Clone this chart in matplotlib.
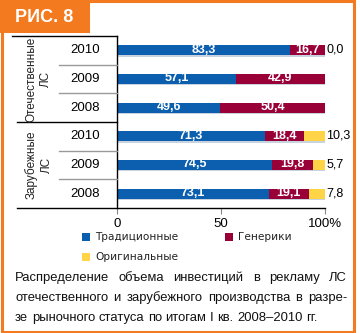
import matplotlib
matplotlib.use("Agg")
import matplotlib.pyplot as plt
from matplotlib.patches import Rectangle
from matplotlib.lines import Line2D

years = ["2010", "2009", "2008", "2010", "2009", "2008"]
groups = ["Отечественные\nЛС", "Зарубежные\nЛС"]
traditional = [83.3, 57.1, 49.6, 71.3, 74.5, 73.1]
generics = [16.7, 42.9, 50.4, 18.4, 19.8, 19.1]
original = [0.0, 0.0, 0.0, 10.3, 5.7, 7.8]
show_orig_label = [True, False, False, True, True, True]
series_names = ["Традиционные", "Генерики", "Оригинальные"]
xticks = [0, 50, 100]
xticklabels = ["0", "50", "100%"]
title = "РИС. 8"
caption_lines = ["Распределение объема инвестиций в рекламу ЛС",
                 "отечественного и зарубежного производства в разре-",
                 "зе рыночного статуса по итогам I кв. 2008–2010 гг."]

sans = "Liberation Sans"

BLUE = "#0B5FAE"
MAROON = "#990038"
YELLOW = "#FFD447"
ORANGE = "#F47A20"

W, H = 360, 333
fig = plt.figure(figsize=(W / 100, H / 100), dpi=100)

def fx(px):
    return px / W

def fy(py):
    return 1 - py / H

# orange frame
fig.patches.append(Rectangle((fx(1.5), fy(331.5)), fx(354) - fx(1.5), fy(1.5) - fy(331.5),
                             transform=fig.transFigure, fill=False, edgecolor=ORANGE, lw=2.2))
fig.patches.append(Rectangle((0, fy(33)), fx(90), 1 - fy(33), transform=fig.transFigure,
                             facecolor=ORANGE, edgecolor="none"))
fig.text(fx(15), fy(17.5), title, color="white", fontsize=13, fontweight="bold",
         family=sans, va="center", ha="left")

# axes
x0, x1, ytop, ybot = 117, 325, 36, 208
ax = fig.add_axes([fx(x0), fy(ybot), fx(x1) - fx(x0), fy(ytop) - fy(ybot)])
pos = list(range(len(years)))
h = 0.35
total = [a + b + c for a, b, c in zip(traditional, generics, original)]
ax.barh([p + 0.05 for p in pos], total, height=h, color="#C9D3DF", zorder=1)
ax.barh(pos, traditional, height=h, color=BLUE, zorder=2)
ax.barh(pos, generics, left=traditional, height=h, color=MAROON, zorder=2)
left3 = [a + b for a, b in zip(traditional, generics)]
ax.barh(pos, original, left=left3, height=h, color=YELLOW, zorder=2)

def fmt(v):
    return f"{v:.1f}".replace(".", ",")

for p, t, g, o, s in zip(pos, traditional, generics, original, show_orig_label):
    ax.text(t / 2, p - 0.02, fmt(t), color="white", fontsize=9, fontweight="bold",
            family=sans, ha="center", va="center", zorder=3)
    ax.text(t + g / 2, p - 0.02, fmt(g), color="white", fontsize=9, fontweight="bold",
            family=sans, ha="center", va="center", zorder=3)
    if s:
        ax.text(t + g + o + 0.6, p - 0.02, fmt(o), color="black", fontsize=9,
                family=sans, ha="left", va="center", zorder=3)

ax.set_xlim(0, 100)
ax.set_ylim(5.5, -0.5)
ax.set_yticks([])
ax.set_xticks(xticks)
ax.set_xticklabels(xticklabels, family=sans, fontsize=9.5)
ax.tick_params(axis="x", length=4, color="#888888", pad=3)
for s in ["top", "right", "bottom"]:
    ax.spines[s].set_visible(False)
ax.spines["left"].set_linewidth(1)
ax.patch.set_alpha(0)

# left panel lines
fig.add_artist(Line2D([fx(12), fx(x0)], [fy(ytop), fy(ytop)], color="black", lw=1))
fig.add_artist(Line2D([fx(17), fx(x1)], [fy(ybot), fy(ybot)], color="black", lw=1))
sep_group = ytop + (ybot - ytop) / 2
fig.add_artist(Line2D([fx(17), fx(x0)], [fy(sep_group), fy(sep_group)], color="black", lw=1))
unit = (ybot - ytop) / 6
for k in [1, 2, 4, 5]:
    yy = ytop + unit * k
    fig.add_artist(Line2D([fx(59), fx(x0)], [fy(yy), fy(yy)], color="#999999", lw=1))

for p, yr in zip(pos, years):
    yy = ytop + unit * (p + 0.5)
    fig.text(fx(85), fy(yy), yr, fontsize=9.5, family=sans, ha="center", va="center")

for gi, g in enumerate(groups):
    yy = ytop + unit * (3 * gi + 1.5)
    fig.text(fx(39), fy(yy), g, fontsize=8.5, family=sans, ha="center", va="center",
             rotation=90, linespacing=1.3, color="#222222")

# legend
leg = [(82, 237, BLUE, series_names[0]), (225, 237, MAROON, series_names[1]),
       (82, 257, YELLOW, series_names[2])]
for lx, ly, c, name in leg:
    fig.patches.append(Rectangle((fx(lx), fy(ly + 4)), fx(8), 1 - fy(8),
                                 transform=fig.transFigure, facecolor=c, edgecolor="none"))
    fig.text(fx(lx + 13), fy(ly), name, fontsize=7.6, family="DejaVu Sans",
             ha="left", va="center", color="#222222")

# caption, justified
renderer = fig.canvas.get_renderer()
cap_x0, cap_x1 = 15, 347
cap_y = [278, 298, 318]
probe = fig.text(0, 0, caption_lines[1], fontsize=10, family=sans)
pw = probe.get_window_extent(renderer).width
probe.remove()
cap_fs = min(11, 10 * (cap_x1 - cap_x0 - 8) / pw)
for i, (line, yy) in enumerate(zip(caption_lines, cap_y)):
    words = line.split(" ")
    ts = [fig.text(0, fy(yy), w, fontsize=cap_fs, family=sans, ha="left",
                   va="center", color="#111111") for w in words]
    widths = [t.get_window_extent(renderer).width for t in ts]
    if i == len(caption_lines) - 1:
        sp = fig.text(0, 0, "a a", fontsize=cap_fs, family=sans)
        sa = fig.text(0, 0, "aa", fontsize=cap_fs, family=sans)
        gap = sp.get_window_extent(renderer).width - sa.get_window_extent(renderer).width
        sp.remove()
        sa.remove()
    else:
        gap = (cap_x1 - cap_x0 - sum(widths)) / (len(words) - 1)
    x = cap_x0
    for t, wd in zip(ts, widths):
        t.set_x(fx(x))
        x += wd + gap

fig.savefig("out.png", dpi=100)
